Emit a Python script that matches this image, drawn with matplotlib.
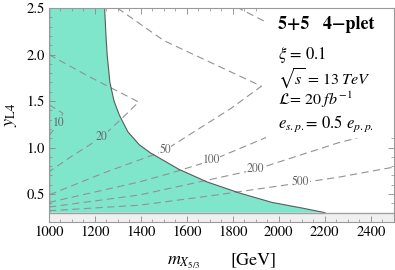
import numpy as np
import matplotlib
matplotlib.use("Agg")
import matplotlib.pyplot as plt
from matplotlib.patches import Rectangle
from matplotlib.ticker import MultipleLocator

plt.rcParams['font.family'] = ['STIXGeneral', 'DejaVu Serif']
plt.rcParams['mathtext.fontset'] = 'stix'

# excluded region boundary (x = m_X5/3 in GeV, y = y_L4)
bound_x = [1242, 1248, 1253, 1265, 1283, 1306, 1343, 1393, 1440, 1566, 1688, 1830, 1970, 2100, 2200]
bound_y = [2.50, 2.20, 2.00, 1.70, 1.50, 1.35, 1.17, 1.03, 0.945, 0.765, 0.63, 0.51, 0.41, 0.35, 0.30]

# dashed contours
c10_x = [1000, 1060, 1043, 1000]
c10_y = [1.46, 1.37, 1.26, 1.13]
c20_x = [1000, 1177, 1390, 1320, 1229, 1101, 1000]
c20_y = [2.00, 1.76, 1.49, 1.32, 1.11, 0.91, 0.74]
c50_x = [1298, 1500, 1924, 1791, 1644, 1497, 1241, 1000]
c50_y = [2.50, 2.15, 1.66, 1.42, 1.19, 0.96, 0.73, 0.49]
c100_x = [1000, 1393, 1523, 1700, 1946, 2300, 1825]
c100_y = [0.41, 0.63, 0.72, 0.855, 1.11, 1.90, 2.50]
c200_x = [1000, 1393, 1523, 1894, 2257, 2335, 2500]
c200_y = [0.36, 0.49, 0.56, 0.76, 1.05, 1.10, 1.25]
c500_x = [1000, 1393, 1700, 2093, 2257, 2500]
c500_y = [0.32, 0.38, 0.48, 0.62, 0.68, 0.79]

contour_labels = ['10', '20', '50', '100', '200', '500']
label_x = [1043, 1229, 1505, 1705, 1897, 2095]
label_y = [1.26, 1.11, 0.97, 0.86, 0.765, 0.625]

teal = '#7fe6cc'

fig = plt.figure(figsize=(3.95, 2.7), dpi=100)
ax = fig.add_axes([0.124, 0.178, 0.873, 0.792])

# excluded region
poly_x = [1000, 1000] + bound_x
poly_y = [0.3, 2.5] + bound_y
ax.fill(poly_x, poly_y, color=teal, lw=0, zorder=1)
ax.plot(bound_x, bound_y, color='#5a5a5a', lw=0.8, zorder=1.6)
ax.plot([1000, 1000], [0.3, 2.5], color='#5a5a5a', lw=0.9, zorder=1.6)

# bottom band
ax.axhspan(0.2, 0.3, color='#f0f0f0', lw=0, zorder=1)
ax.axhline(0.3, color='#a0a0a0', lw=1.0, zorder=1.6)

for cx, cy in [(c10_x, c10_y), (c20_x, c20_y), (c50_x, c50_y),
               (c100_x, c100_y), (c200_x, c200_y), (c500_x, c500_y)]:
    ax.plot(cx, cy, color='#929292', lw=0.8, dashes=(6.5, 4), zorder=1.5)

for lab, lx, ly in zip(contour_labels, label_x, label_y):
    inside = lab in ('10', '20')
    ax.text(lx, ly, lab, fontsize=8.5, color='#666666', ha='center', va='center',
            zorder=2.2,
            bbox=dict(boxstyle='square,pad=0.05', fc=teal if inside else 'white', ec='none'))

# white area behind the text block
ax.add_patch(Rectangle((1945, 1.10), 555, 1.4, facecolor='white', edgecolor='none', zorder=2))

ax.set_xlim(1000, 2500)
ax.set_ylim(0.2, 2.5)
ax.xaxis.set_major_locator(MultipleLocator(200))
ax.xaxis.set_minor_locator(MultipleLocator(50))
ax.yaxis.set_minor_locator(MultipleLocator(0.1))
ax.set_yticks([0.5, 1.0, 1.5, 2.0, 2.5])
ax.set_yticklabels(['0.5', '1.0', '1.5', '2.0', '2.5'])
ax.tick_params(which='both', direction='in', top=True, right=True, color='#888888',
               labelsize=10.5, pad=3)
ax.tick_params(which='major', length=4, width=0.6)
ax.tick_params(which='minor', length=2.2, width=0.5)
for s in ax.spines.values():
    s.set_color('#999999')
    s.set_linewidth(0.8)

# axis labels
fig.text(167 / 395, 0.02, r'$m_{X_{5/3}}$', fontsize=13, ha='left', va='baseline')
fig.text(230 / 395, 0.02, '[GeV]', fontsize=13, ha='left', va='baseline')
fig.text(0.028, 0.574, r'$y_{\rm L4}$', fontsize=13, rotation=90, ha='center', va='center')

# info block
tx = 0.665
ax.text(tx, 0.902, '5+5   4\u2212plet', transform=ax.transAxes, fontsize=13,
        fontweight='bold', ha='left', va='baseline', zorder=5)
ax.text(tx, 0.762, r'$\xi$ = 0.1', transform=ax.transAxes, fontsize=12,
        ha='left', va='baseline', zorder=5)
ax.text(tx, 0.640, r'$\sqrt{s}$ = $\mathit{13\ TeV}$', transform=ax.transAxes, fontsize=11.5,
        ha='left', va='baseline', zorder=5)
ax.text(tx, 0.548, r'$\mathcal{L}$= $\mathit{20\ fb}^{-1}$', transform=ax.transAxes, fontsize=11.5,
        ha='left', va='baseline', zorder=5)
ax.text(tx, 0.439, r'$e_{s.p.}$= 0.5 $e_{p.p.}$', transform=ax.transAxes, fontsize=12,
        ha='left', va='baseline', zorder=5)

fig.savefig('out.png', dpi=100)
